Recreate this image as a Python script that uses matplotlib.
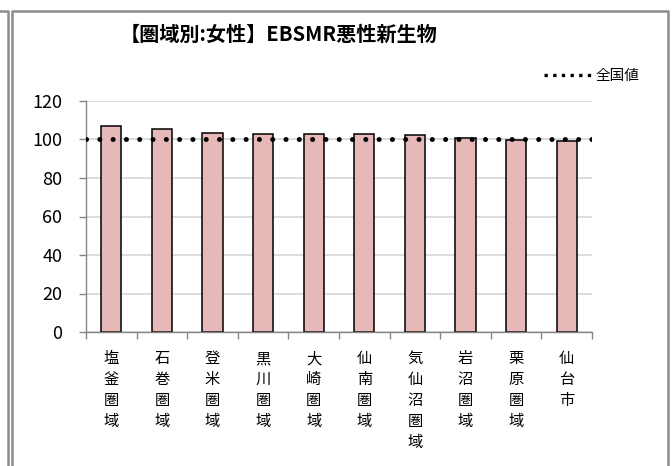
import matplotlib
matplotlib.use('Agg')
import matplotlib.pyplot as plt
from matplotlib.lines import Line2D
import numpy as np

plt.rcParams['font.family'] = ['Noto Sans CJK JP', 'DejaVu Sans']

# data
areas = ['塩釜圏域', '石巻圏域', '登米圏域', '黒川圏域', '大崎圏域',
         '仙南圏域', '気仙沼圏域', '岩沼圏域', '栗原圏域', '仙台市']
ebsmr = [107.2, 105.5, 103.4, 103.0, 102.9, 102.9, 102.2, 100.6, 99.8, 99.1]
national = 100

title = '【圏域別:女性】EBSMR悪性新生物'
legend_label = '全国値'

W, H = 672, 466
fig = plt.figure(figsize=(W / 100, H / 100), dpi=100)
ax = fig.add_axes([86 / W, 1 - 332 / H, (592 - 86) / W, (332 - 101) / H])

x = np.arange(len(areas))
ax.bar(x, ebsmr, width=0.4, color='#e6b8b7', edgecolor='black', linewidth=1.1, zorder=2)
ax.axhline(national, color='black', linewidth=3.6, linestyle=(0, (0.01, 2.65)),
           dash_capstyle='round', zorder=3)

ax.set_xlim(-0.5, len(areas) - 0.5)
ax.set_ylim(0, 120)
ax.set_yticks(np.arange(0, 121, 20))
ax.grid(axis='y', color='#d9d9d9', linewidth=1.3, zorder=0)
ax.set_axisbelow(True)

for s in ['top', 'right']:
    ax.spines[s].set_visible(False)
for s in ['left', 'bottom']:
    ax.spines[s].set_color('#868686')
    ax.spines[s].set_linewidth(1.0)

ax.set_xticks(x)
ax.set_xticklabels(['\n'.join(a) for a in areas], fontsize=11, va='top', linespacing=1.3)
ax.set_xticks(np.arange(-0.5, len(areas), 1), minor=True)
ax.tick_params(axis='x', which='major', length=0, pad=13)
ax.tick_params(axis='x', which='minor', length=5, color='#868686', width=1.0)
ax.tick_params(axis='y', length=5, color='#868686', width=1.0, labelsize=13, pad=12)

fig.text(279 / W, 1 - 34 / H, title, ha='center', va='center',
         fontsize=14.5, fontweight='bold')

proxy = Line2D([], [], color='black', linewidth=2.4, linestyle=(0, (1, 1.6)))
ax.legend([proxy], [legend_label], loc='center right', frameon=False,
          bbox_to_anchor=(639 / W, 1 - 76 / H), bbox_transform=fig.transFigure,
          fontsize=10.5, handlelength=3.2, handletextpad=0.3, borderpad=0, borderaxespad=0)

# chart frame, plus the edge of the neighbouring chart on the left
frame = dict(color='#8c8c8c', linewidth=1.8, transform=fig.transFigure, clip_on=False)
fig.add_artist(Line2D([12 / W, 12 / W, 668 / W, 668 / W], [0, 1 - 11 / H, 1 - 11 / H, 0], **frame))
fig.add_artist(Line2D([0, 8 / W, 8 / W], [1 - 11 / H, 1 - 11 / H, 0], **frame))

fig.savefig('out.png', dpi=100)
